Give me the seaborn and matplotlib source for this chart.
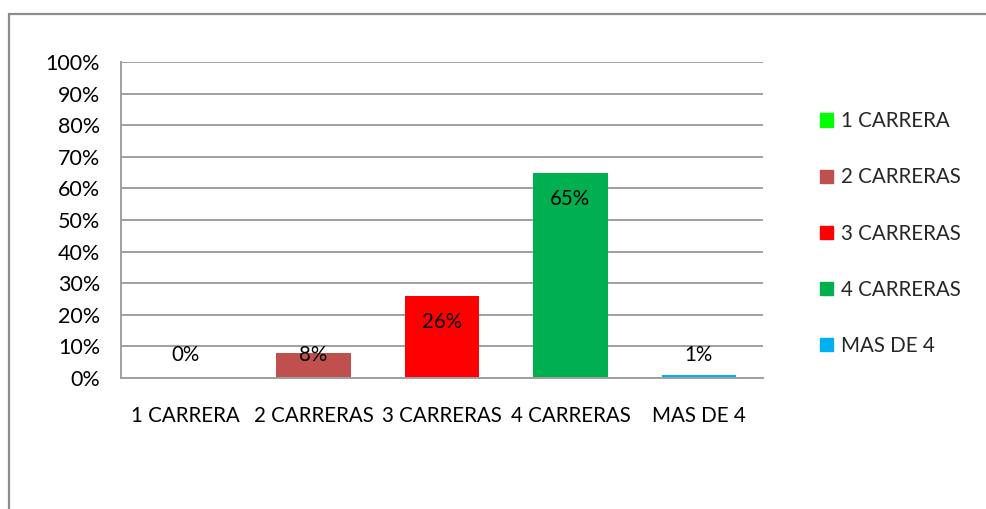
import matplotlib
matplotlib.use("Agg")
import matplotlib.pyplot as plt
import matplotlib.patches as mpatches
import seaborn as sns
import pandas as pd

categories = ["1 CARRERA", "2 CARRERAS", "3 CARRERAS", "4 CARRERAS", "MAS DE 4"]
values = [0, 8, 26, 65, 1]
colors = ["#00FF00", "#C0504D", "#FF0000", "#00B050", "#00B0F0"]
yticks = [0, 10, 20, 30, 40, 50, 60, 70, 80, 90, 100]

sns.set_theme(style="white")
plt.rcParams["font.family"] = ["Lato", "DejaVu Sans"]

FS = 14.8

df = pd.DataFrame({"cat": categories, "val": values})

fig = plt.figure(figsize=(9.86, 5.09), dpi=100)
ax = fig.add_axes([121/986, 1-378/509, (763-121)/986, (378-62)/509])

sns.barplot(data=df, x="cat", y="val", hue="cat", palette=colors,
            dodge=False, width=0.58, legend=False, ax=ax, saturation=1,
            linewidth=0)

ax.set_ylim(0, 100)
ax.set_xlim(-0.5, 4.5)
ax.set_yticks(yticks)
ax.set_yticklabels([f"{t}%" for t in yticks])
ax.yaxis.grid(True, color="#A0A0A0", linewidth=1.4)
ax.set_axisbelow(True)
ax.set_xlabel("")
ax.set_ylabel("")
for s in ["top", "right"]:
    ax.spines[s].set_visible(False)
for s in ["left", "bottom"]:
    ax.spines[s].set_color("#A0A0A0")
    ax.spines[s].set_linewidth(1.4)
ax.tick_params(axis="y", length=0, pad=15, labelsize=15.5, colors="#000000")
ax.tick_params(axis="x", length=0, pad=20, labelsize=FS, colors="#000000")

for i, v in enumerate(values):
    ypos = v - 8.2 if v >= 20 else 7.2
    ax.text(i, ypos, f"{v}%", ha="center", va="center", fontsize=FS, color="#000000")

handles = [mpatches.Patch(color=c, label=l) for c, l in zip(colors, categories)]
fig.legend(handles=handles, loc="upper left", bbox_to_anchor=(812/986, 1-103/509),
           frameon=False, fontsize=FS, handlelength=0.62, handleheight=0.62,
           handletextpad=0.4, labelspacing=1.76, borderaxespad=0)

border = mpatches.Rectangle((9/986, -0.1), 1.2, 1-14/509+0.1, transform=fig.transFigure,
                            fill=False, edgecolor="#8C8C8C", linewidth=1.6)
fig.patches.append(border)

fig.savefig("out.png", dpi=100, facecolor="white")
